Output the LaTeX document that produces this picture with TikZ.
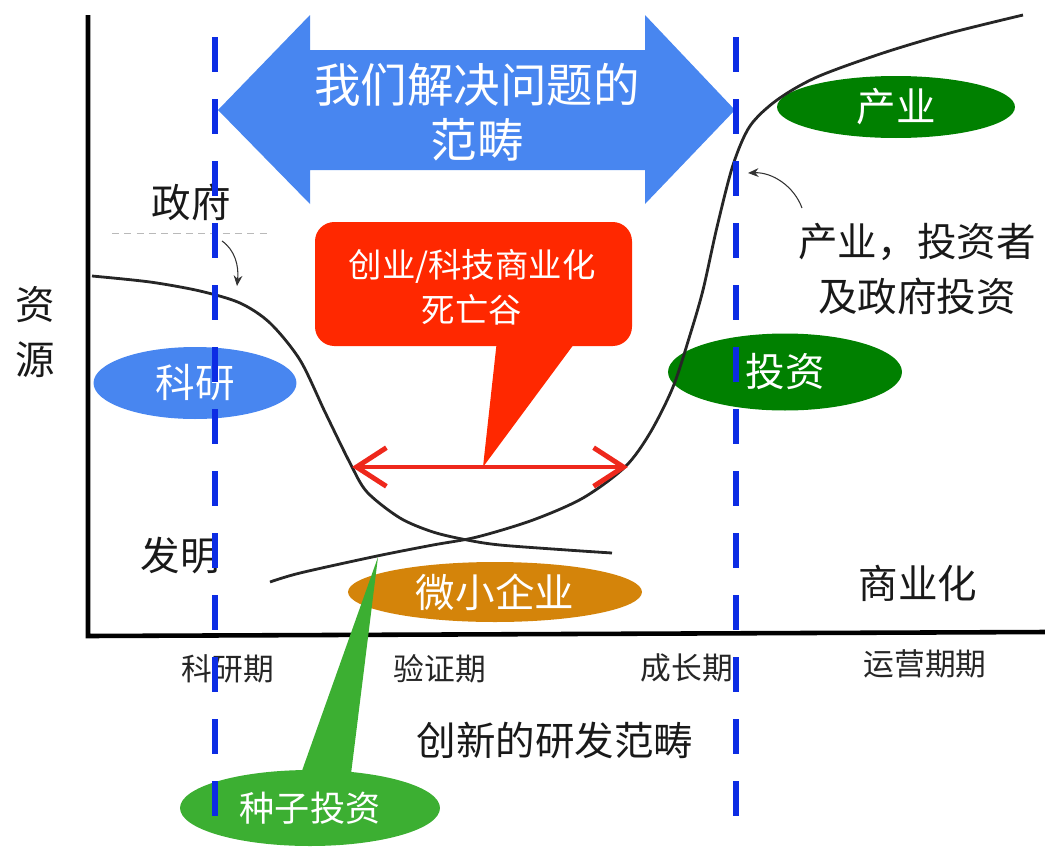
\documentclass[tikz,border=0pt]{standalone}
\usepackage{fontspec}
\setmainfont{Noto Sans CJK SC}
\usetikzlibrary{shapes.geometric,arrows.meta}
\definecolor{bigblue}{RGB}{72,134,240}
\definecolor{dashblue}{RGB}{12,44,228}
\definecolor{calloutred}{RGB}{255,40,0}
\definecolor{arrowred}{RGB}{238,40,28}
\definecolor{darkgreen}{RGB}{0,128,0}
\definecolor{seedgreen}{RGB}{60,175,50}
\definecolor{smallorange}{RGB}{212,132,10}

\begin{document}
\begin{tikzpicture}[x=0.02cm, y=-0.02cm,
    lbl/.style={font=\fontsize{22.5}{31}\selectfont, text=black!90, inner sep=0pt, align=center},
    stagelbl/.style={font=\fontsize{17.5}{21}\selectfont, text=black!85, inner sep=0pt},
    ell/.style={ellipse, inner sep=0pt, text=white, font=\fontsize{22.5}{27}\selectfont},
    stageline/.style={dashblue, line width=3.4pt, line cap=butt, dash pattern=on 19.9pt off 15.4pt},
    rescurve/.style={line width=1.6pt, black!85, smooth},
    note/.style={-{Stealth[length=6pt,width=5pt]}, line width=0.6pt, black!80}]

    \useasboundingbox (0,0) rectangle (1045,846);

    \coordinate (ytop) at (88,15);
    \coordinate (origin) at (88,636);
    \coordinate (xend) at (1045,632);
    \draw[line width=2.6pt] (ytop) -- (origin) -- (xend);

    \fill[bigblue] (218,110) -- (310,15) -- (310,50) -- (645,50) -- (645,15) -- (735,110)
        -- (645,204) -- (645,170) -- (310,170) -- (310,204) -- cycle;
    \node[lbl, text=white, font=\fontsize{26.5}{31.3}\selectfont] (scope) at (477,112) {我们解决问题的\\范畴};

    \fill[calloutred, rounded corners=11pt] (315,222) rectangle (632,346);
    \fill[calloutred] (497,340) -- (483,467) -- (577,340) -- cycle;
    \node[lbl, text=white, font=\fontsize{19}{25.6}\selectfont] (valley) at (472,287) {创业/科技商业化\\死亡谷};

    \node[ell, fill=bigblue, minimum width=4.06cm, minimum height=1.44cm] (research) at (195,383) {科研};
    \node[ell, fill=darkgreen, minimum width=4.68cm, minimum height=1.54cm] (invest) at (785,372) {投资};
    \node[ell, fill=darkgreen, minimum width=4.76cm, minimum height=1.24cm] (industry) at (896,107) {产业};
    \node[ell, fill=smallorange, minimum width=5.88cm, minimum height=1.2cm] (micro) at (495,592) {微小企业};

    \draw[rescurve] plot coordinates {(92,276) (150,282) (200,291) (240,303) (270,323) (300,360)
        (325,412) (350,463) (367,492) (400,518) (433,532) (467,540) (500,545) (567,550) (612,553)};
    \draw[rescurve] plot coordinates {(270,582) (300,573) (377,556) (433,545) (477,537) (533,520)
        (583,498) (625,467) (650,433) (673,387) (690,335) (703,290) (717,227) (733,165) (750,126)
        (777,100) (817,77) (883,53) (950,33) (1023,15)};

    \coordinate (vl) at (352,467);
    \coordinate (vr) at (628,467);
    \draw[arrowred, line width=2.8pt, {Straight Barb[length=17pt,width=22pt]}-{Straight Barb[length=17pt,width=22pt]}] (vl) -- (vr);

    \node[lbl] (resource) at (35,332) {资\\源};
    \node[lbl] (gov) at (191,202) {政府};
    \node[lbl] (invent) at (180,556) {发明};
    \node[lbl] (backers) at (917,269) {产业，投资者\\及政府投资};
    \node[lbl] (commerce) at (918,583) {商业化};
    \node[lbl] (rdscope) at (555,740) {创新的研发范畴};

    \node[stagelbl] (s1) at (228,669) {科研期};
    \node[stagelbl] (s2) at (440,669) {验证期};
    \node[stagelbl] (s3) at (687,668) {成长期};
    \node[stagelbl] (s4) at (925,664) {运营期期};

    \draw[gray!55, line width=0.5pt, dash pattern=on 4pt off 3pt] (112,233) -- (270,233);
    \coordinate (g1) at (222,241);
    \coordinate (g2) at (237,286);
    \draw[note] (g1) .. controls (235,250) and (239,266) .. (g2);
    \coordinate (b1) at (802,208);
    \coordinate (b2) at (748,173);
    \draw[note] (b1) .. controls (794,186) and (772,172) .. (b2);

    \fill[seedgreen] (298,782) -- (378,557) -- (350,782) -- cycle;
    \node[ell, fill=seedgreen, minimum width=5.2cm, minimum height=1.52cm,
        font=\fontsize{20}{24}\selectfont] (seed) at (310,808) {种子投资};

    \draw[stageline] (215,37) -- (215,816);
    \draw[stageline] (736,37) -- (736,816);
\end{tikzpicture}
\end{document}
